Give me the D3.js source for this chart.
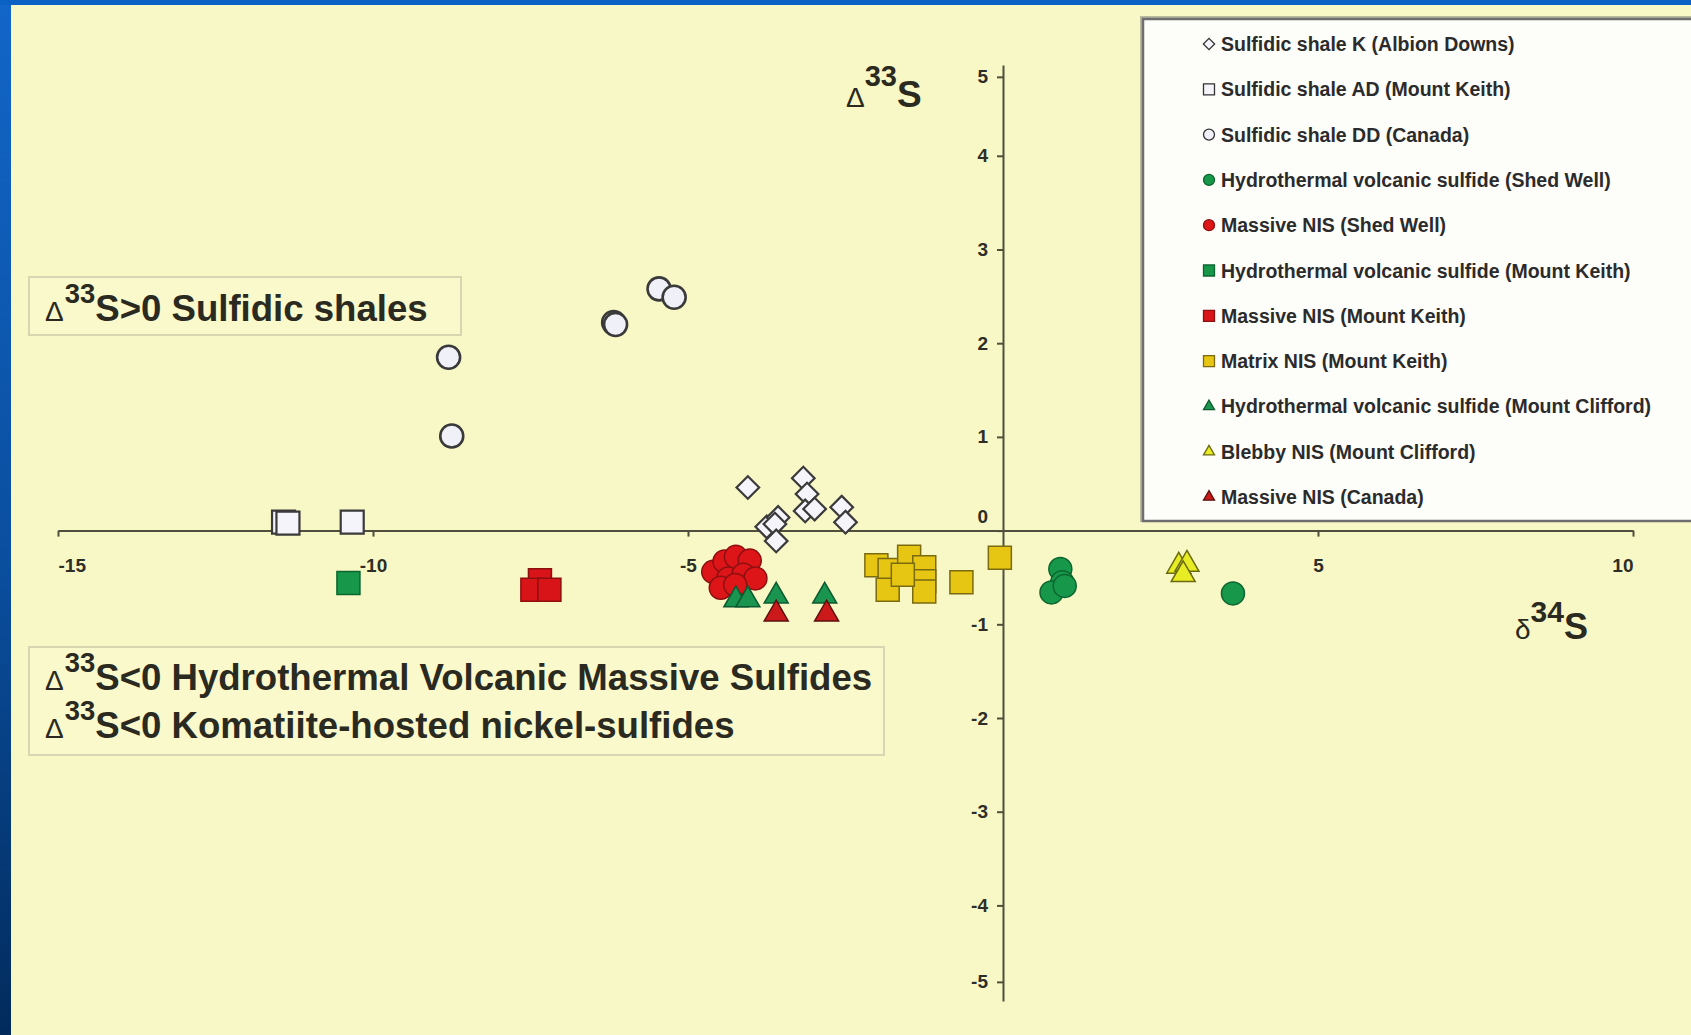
<!DOCTYPE html>
<html lang="en">
<head>
<meta charset="UTF-8">
<title>Multiple sulfur isotopes</title>
<style>
  body{margin:0;background:#f8f8c6;overflow:hidden;}
  svg{display:block;}
  .axis path,.axis line{stroke:#4f4f3c;stroke-width:2;}
  .axis text{font:bold 19px "Liberation Sans",Arial,sans-serif;fill:#2e2e26;}
  .note text{font-family:"Liberation Sans",Arial,sans-serif;fill:#2a2a20;}
  .legend text{font:bold 19.5px "Liberation Sans",Arial,sans-serif;fill:#2b2b2b;}
</style>
</head>
<body>
<svg width="1691" height="1035"></svg>
<script src="https://cdn.jsdelivr.net/npm/d3@7/dist/d3.min.js"></script>
<script>
// series, in legend order: [d34S, D33S]
var seriesNames = [
  "Sulfidic shale K (Albion Downs)",
  "Sulfidic shale AD (Mount Keith)",
  "Sulfidic shale DD (Canada)",
  "Hydrothermal volcanic sulfide (Shed Well)",
  "Massive NIS (Shed Well)",
  "Hydrothermal volcanic sulfide (Mount Keith)",
  "Massive NIS (Mount Keith)",
  "Matrix NIS (Mount Keith)",
  "Hydrothermal volcanic sulfide (Mount Clifford)",
  "Blebby NIS (Mount Clifford)",
  "Massive NIS (Canada)"
];
var shapes  = ["diamond","square","circle","circle","circle","square","square","square","triangle","triangle","triangle"];
var fills   = ["#f4f4fa","#f4f4fa","#f0f0f8","#16974a","#dd1418","#16974a","#d81418","#e6c612","#1a9550","#e8ec22","#cc1a1a"];
var strokes = ["#3a3a3a","#3a3a3a","#3a3a3a","#0d6630","#8c1010","#0d6630","#8c1010","#7a6a10","#0d5a30","#6a6a10","#5a1010"];

var shaleK = [[-4.05,0.46],[-3.17,0.56],[-3.11,0.39],[-3.14,0.21],[-2.99,0.23],[-3.75,0.04],
              [-3.57,0.14],[-3.62,0.07],[-3.60,-0.11],[-2.56,0.25],[-2.50,0.09]];
var shaleAD = [[-11.42,0.09],[-11.35,0.08],[-10.33,0.09]];
var shaleDD = [[-5.46,2.58],[-5.22,2.49],[-6.18,2.22],[-6.15,2.20],[-8.80,1.85],[-8.75,1.01]];
var hydroShedWell = [[0.91,-0.41],[0.94,-0.55],[0.77,-0.66],[0.98,-0.59],[3.65,-0.67]];
var massiveShedWell = [[-4.60,-0.44],[-4.42,-0.33],[-4.24,-0.28],[-4.02,-0.32],[-4.36,-0.51],
                       [-4.12,-0.47],[-3.93,-0.51],[-4.48,-0.61],[-4.25,-0.58]];
var hydroMtKeith = [[-10.39,-0.56]];
var massiveMtKeith = [[-7.35,-0.53],[-7.47,-0.63],[-7.20,-0.63]];
var matrixMtKeith = [[-2.01,-0.37],[-1.80,-0.42],[-1.49,-0.28],[-1.83,-0.63],[-1.25,-0.39],
                     [-1.25,-0.54],[-1.25,-0.65],[-1.59,-0.47],[-0.66,-0.55],[-0.05,-0.29]];
var hydroMtClifford = [[-4.24,-0.74],[-4.05,-0.74],[-3.60,-0.70],[-2.83,-0.70]];
var blebbyMtClifford = [[2.79,-0.38],[2.92,-0.36],[2.86,-0.47]];
var massiveCanada = [[-3.60,-0.89],[-2.80,-0.89]];

var xTicks = [-15,-10,-5,5,10];
var yTicks = [5,4,3,2,1,0,-1,-2,-3,-4,-5];

var seriesData = [shaleK, shaleAD, shaleDD, hydroShedWell, massiveShedWell, hydroMtKeith,
                  massiveMtKeith, matrixMtKeith, hydroMtClifford, blebbyMtClifford, massiveCanada];

var series = seriesNames.map(function(n,i){
  return {name:n, shape:shapes[i], fill:fills[i], stroke:strokes[i], values:seriesData[i]};
});

var svg = d3.select("svg");

// slide frame
var defs = svg.append("defs");
var grad = defs.append("linearGradient").attr("id","strip").attr("x1",0).attr("x2",0).attr("y1",0).attr("y2",1);
grad.append("stop").attr("offset","0%").attr("stop-color","#1266c8");
grad.append("stop").attr("offset","55%").attr("stop-color","#0a4e9e");
grad.append("stop").attr("offset","100%").attr("stop-color","#022b5c");
svg.append("rect").attr("width",1691).attr("height",1035).attr("fill","#f8f8c6");
svg.append("rect").attr("width",11).attr("height",1035).attr("fill","url(#strip)");
svg.append("rect").attr("width",1691).attr("height",5).attr("fill","#0b62c4");

// scales: y ticks at the ends sit a little closer together in the figure
var x = d3.scaleLinear().domain([-15,10]).range([58,1633]);
var y = d3.scaleLinear().domain([-5.25,-4,4,5.15]).range([1001,905.4,155.8,65]);

// annotation boxes
function isoText(g, tx, ty, small, sup, rest, big){
  var t = g.append("text").attr("x",tx).attr("y",ty);
  t.append("tspan").attr("font-size",small).attr("font-weight","normal").text("\u0394");
  t.append("tspan").attr("font-size",big*0.75).attr("font-weight","bold").attr("dx",1).attr("dy",-big*0.5).text(sup);
  t.append("tspan").attr("font-size",big).attr("font-weight","bold").attr("dy",big*0.5).text(rest);
  return t;
}
var notes = svg.append("g").attr("class","note");
notes.append("rect").attr("x",29).attr("y",277).attr("width",432).attr("height",58)
  .attr("fill","#f9f9cc").attr("stroke","#d6d6b0").attr("stroke-width",2);
isoText(notes, 45, 321, 28, "33", "S>0 Sulfidic shales", 36.6);
notes.append("rect").attr("x",29).attr("y",647).attr("width",855).attr("height",108)
  .attr("fill","#f9f9cc").attr("stroke","#d6d6b0").attr("stroke-width",2);
isoText(notes, 45, 690, 28, "33", "S<0 Hydrothermal Volcanic Massive Sulfides", 36.6);
isoText(notes, 45, 738, 28, "33", "S<0 Komatiite-hosted nickel-sulfides", 36.6);

// axes crossing at the origin
var plain = function(d){ return String(d); };
var xAxis = svg.append("g").attr("class","axis")
  .attr("transform","translate(0,"+y(0)+")")
  .call(d3.axisBottom(x).tickValues(xTicks).tickFormat(plain).tickSize(6).tickSizeOuter(0).tickPadding(22));
xAxis.selectAll(".tick text").attr("text-anchor",function(d,i){
  return i==0 ? "start" : (i==xTicks.length-1 ? "end" : "middle");
});
var yAxis = svg.append("g").attr("class","axis")
  .attr("transform","translate("+x(0)+",0)")
  .call(d3.axisLeft(y).tickValues(yTicks).tickFormat(plain).tickSize(6).tickSizeOuter(0).tickPadding(9));
yAxis.selectAll(".tick text").filter(function(d){ return d==0; }).attr("dy","-0.45em");

// axis titles
var t1 = svg.append("text").attr("x",846).attr("y",107).attr("font-family","Liberation Sans, Arial, sans-serif").attr("fill","#2a2a20");
t1.append("tspan").attr("font-size",28).text("\u0394");
t1.append("tspan").attr("font-size",29).attr("font-weight","bold").attr("dy",-21).text("33");
t1.append("tspan").attr("font-size",37).attr("font-weight","bold").attr("dy",21).text("S");
var t2 = svg.append("text").attr("x",1515).attr("y",639).attr("font-family","Liberation Sans, Arial, sans-serif").attr("fill","#2a2a20");
t2.append("tspan").attr("font-size",28).text("\u03b4");
t2.append("tspan").attr("font-size",30).attr("font-weight","bold").attr("dy",-17).text("34");
t2.append("tspan").attr("font-size",36).attr("font-weight","bold").attr("dy",17).text("S");

// markers
function symbolPath(shape, s){
  if(shape=="circle") return d3.symbol(d3.symbolCircle, Math.PI*s*s/4)();
  if(shape=="triangle") return d3.symbol(d3.symbolTriangle, Math.sqrt(3)/4*s*s)();
  return d3.symbol(d3.symbolSquare, s*s)();
}
var plot = svg.append("g");
series.forEach(function(sr){
  var size = sr.shape=="diamond" ? 16 : (sr.shape=="triangle" ? 24 : 23);
  var open = sr.fill.charAt(1)=="f";
  plot.selectAll(null).data(sr.values).enter().append("path")
    .attr("d", symbolPath(sr.shape, size))
    .attr("transform", function(d){
      return "translate("+x(d[0])+","+y(d[1])+")"+(sr.shape=="diamond" ? " rotate(45)" : "");
    })
    .attr("fill", sr.fill).attr("stroke", sr.stroke)
    .attr("stroke-width", open ? (sr.shape=="circle" ? 2.6 : 2.2) : 1.5);
});

// legend, with a soft shadow along its top and left edges
var legend = svg.append("g").attr("class","legend");
legend.append("rect").attr("x",1141).attr("y",17).attr("width",600).attr("height",504)
  .attr("fill","none").attr("stroke","#b9b9a0").attr("stroke-width",2);
legend.append("rect").attr("x",1143).attr("y",19).attr("width",600).attr("height",502)
  .attr("fill","#fdfdfa").attr("stroke","#6e6e6e").attr("stroke-width",2.5);
var item = legend.selectAll(".item").data(series).enter().append("g")
  .attr("class","item")
  .attr("transform", function(d,i){ return "translate(1209,"+(44+i*45.3)+")"; });
item.append("path")
  .attr("d", function(d){ return symbolPath(d.shape, d.shape=="diamond" ? 8 : 11); })
  .attr("transform", function(d){ return d.shape=="diamond" ? "rotate(45)" : null; })
  .attr("fill", function(d){ return d.fill; })
  .attr("stroke", function(d){ return d.fill.charAt(1)=="f" ? "#333" : d.stroke; })
  .attr("stroke-width", 1.3);
item.append("text").attr("x",12).attr("dy","0.36em").text(function(d){ return d.name; });
</script>
</body>
</html>
